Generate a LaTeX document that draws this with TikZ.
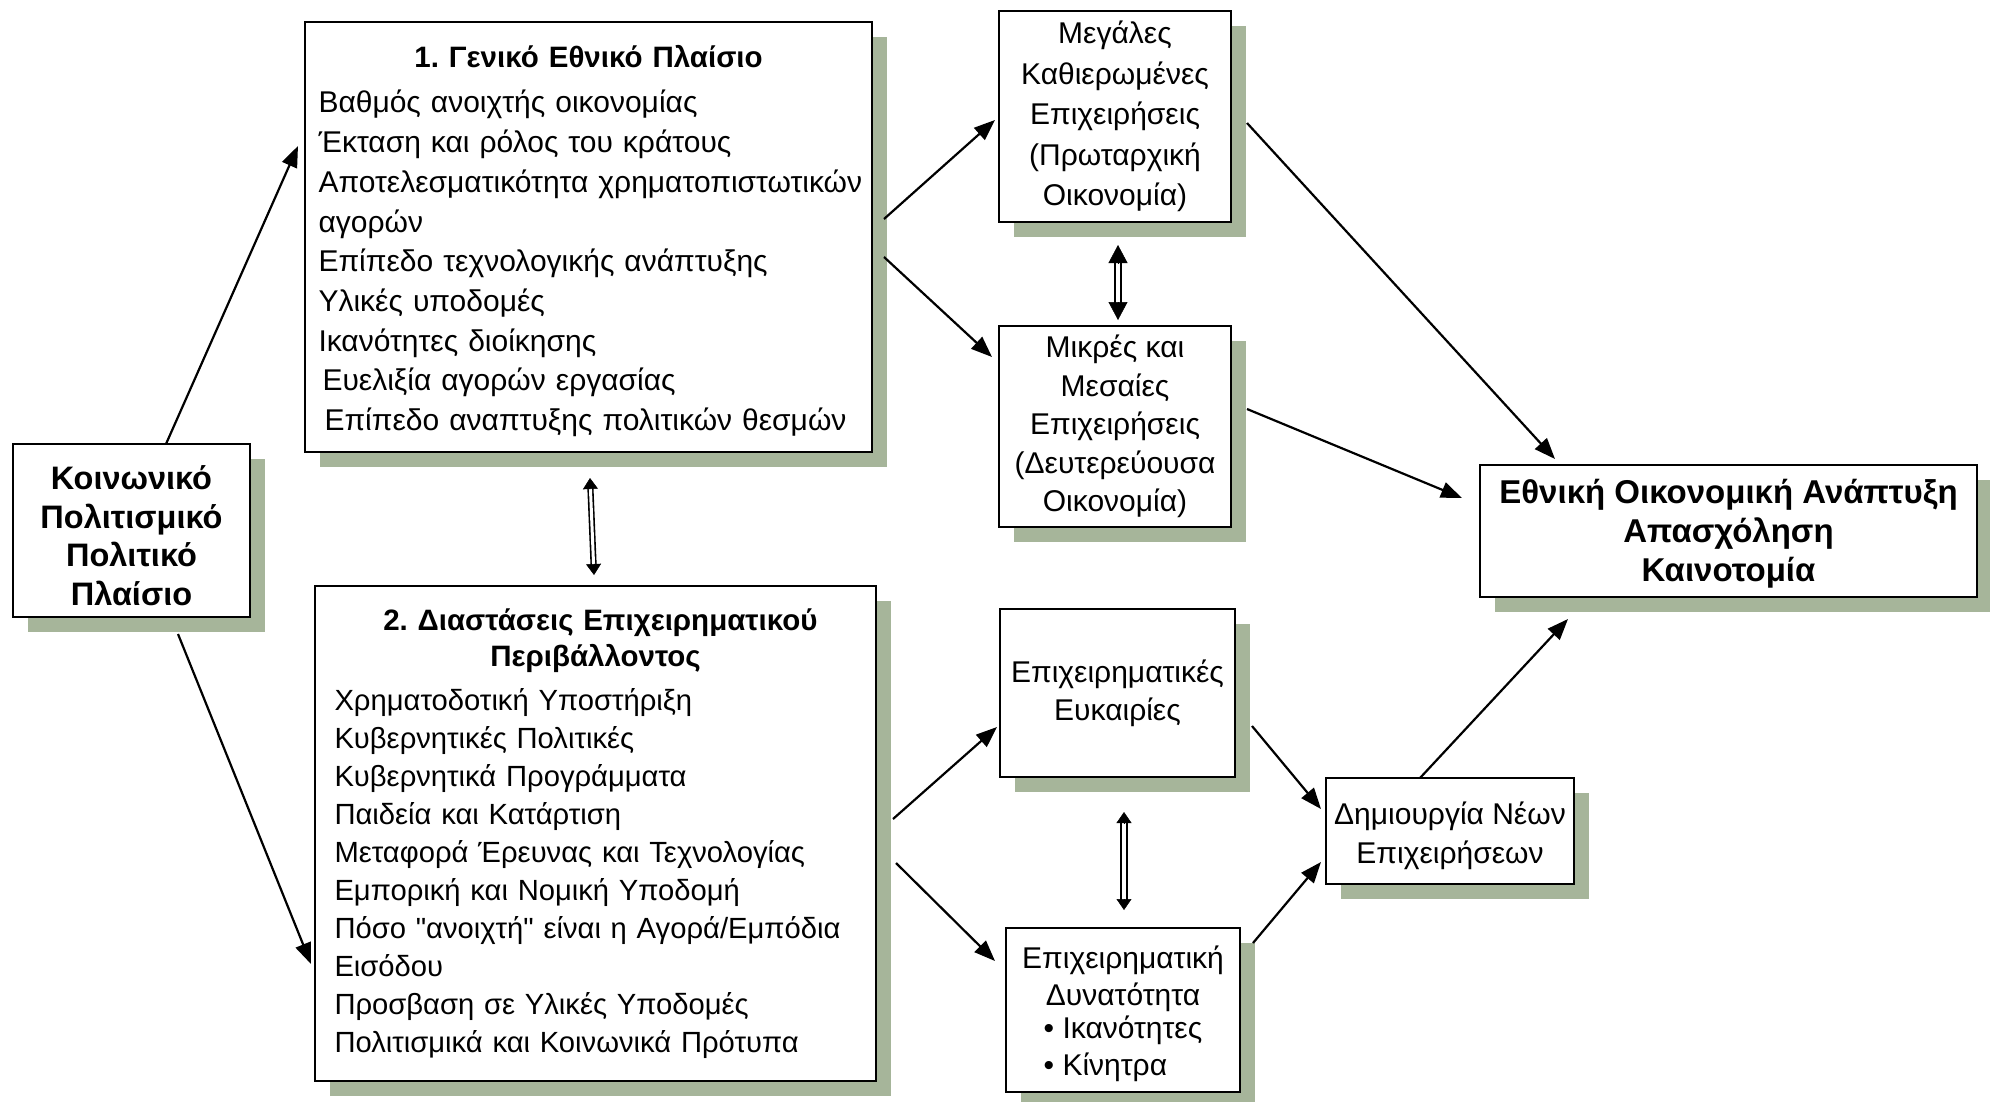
\documentclass[tikz,border=0pt]{standalone}
\usepackage{fontspec}
\setmainfont{Liberation Sans}[Ligatures=TeXOff]
\usetikzlibrary{shadows,arrows.meta,calc}
\definecolor{shadowc}{RGB}{166,181,154}
\newcommand\fsz[2]{\fontsize{#1}{#2}\selectfont}
\newcommand\dblarr[6]{%
  \draw[line width=#6, double=white, double distance=#5, shorten <=#3-1pt, shorten >=#3-1pt] (#1) -- (#2);
  \draw[-{Triangle[length=#3,width=#4]}, line width=0.5pt] ($(#1)!#3!(#2)$) -- (#1);
  \draw[-{Triangle[length=#3,width=#4]}, line width=0.5pt] ($(#2)!#3!(#1)$) -- (#2);
}
\tikzset{
  box/.style={draw=black, line width=2.4pt, fill=white, anchor=north west, inner sep=0pt, outer sep=0pt,
    drop shadow={shadow xshift=15pt, shadow yshift=-15pt, fill=shadowc, opacity=1, draw=none}},
  cbox/.style={box, align=center},
  arr/.style={line width=2.2pt, -{Triangle[length=21pt,width=16pt]}},
}
\frenchspacing
\begin{document}
\begin{tikzpicture}[x=1pt,y=-1pt]
\fill[white] (0,0) rectangle (1990,1101);
\useasboundingbox (0,0) rectangle (1990,1101);

\node[cbox, minimum width=237pt, minimum height=173pt, font=\bfseries\fsz{32.5}{38.7}] (soc) at (13,444)
  {\rule{0pt}{34pt}Κοινωνικό\\Πολιτισμικό\\Πολιτικό\\Πλαίσιο};

\node[box, minimum width=567pt, minimum height=430pt, text width=540pt, font=\fsz{30}{39.7}] (box1) at (305,22) {%
{\centering\bfseries\fsz{29.5}{36}\rule{0pt}{30pt}1. Γενικό Εθνικό Πλαίσιο\par}\vspace{6pt}
\raggedright
Βαθμός ανοιχτής οικονομίας\\
Έκταση και ρόλος του κράτους\\
\mbox{Αποτελεσματικότητα χρηματοπιστωτικών}\\
αγορών\\
Επίπεδο τεχνολογικής ανάπτυξης\\
Υλικές υποδομές\\
Ικανότητες διοίκησης\\
\hspace*{4pt}Ευελιξία αγορών εργασίας\\
\hspace*{6pt}Επίπεδο αναπτυξης πολιτικών θεσμών\par};

\node[box, minimum width=561pt, minimum height=495pt, text width=522pt, font=\fsz{29.2}{38}] (box2) at (315,586) {%
{\centering\bfseries\fsz{29.5}{36} 2. Διαστάσεις Επιχειρηματικού\\Περιβάλλοντος\par}\vspace{6pt}
\raggedright
Χρηματοδοτική Υποστήριξη\\
Κυβερνητικές Πολιτικές\\
Κυβερνητικά Προγράμματα\\
Παιδεία και Κατάρτιση\\
Μεταφορά Έρευνας και Τεχνολογίας\\
Εμπορική και Νομική Υποδομή\\
Πόσο "ανοιχτή" είναι η Αγορά/Εμπόδια\\
Εισόδου\\
Προσβαση σε Υλικές Υποδομές\\
Πολιτισμικά και Κοινωνικά Πρότυπα\par};

\node[cbox, minimum width=232pt, minimum height=211pt, font=\fsz{30}{40.5}] (big) at (999,11)
  {Μεγάλες\\Καθιερωμένες\\Επιχειρήσεις\\(Πρωταρχική\\Οικονομία)};
\node[cbox, minimum width=232pt, minimum height=201pt, font=\fsz{30}{38.5}] (sme) at (999,326)
  {Μικρές και\\Μεσαίες\\Επιχειρήσεις\\(Δευτερεύουσα\\Οικονομία)};
\node[cbox, minimum width=497pt, minimum height=132pt, font=\bfseries\fsz{33}{39}] (out) at (1480,465)
  {\rule{0pt}{30pt}Εθνική Οικονομική Ανάπτυξη\\Απασχόληση\\Καινοτομία};
\node[cbox, minimum width=235pt, minimum height=168pt, font=\fsz{30}{38}] (opp) at (1000,609)
  {Επιχειρηματικές\\Ευκαιρίες};
\node[cbox, minimum width=248pt, minimum height=106pt, font=\fsz{30}{38.5}] (new) at (1326,778)
  {\rule{0pt}{32pt}Δημιουργία Νέων\\Επιχειρήσεων};
\node[cbox, minimum width=234pt, minimum height=164pt, font=\fsz{30}{37}] (pot) at (1006,928)
  {\rule{0pt}{35pt}Επιχειρηματική\\Δυνατότητα\\\begin{tabular}{@{}l@{}}• Ικανότητες\\• Κίνητρα\end{tabular}};

% single arrows
\draw[arr] ($(soc.north west)+(153,0)$) -- ($(box1.north west)+(-7,124)$);
\draw[arr] ($(soc.south west)+(165,17)$) -- ($(box2.north west)+(-4,378)$);
\draw[arr] ($(box1.north east)+(12,197)$) -- ($(big.north west)+(-4,109)$);
\draw[arr] ($(box1.north east)+(12,235)$) -- ($(sme.north west)+(-7,31)$);
\draw[arr] ($(big.north east)+(16,112)$) -- ($(out.north west)+(75,-6)$);
\draw[arr] ($(sme.north east)+(16,83)$) -- ($(out.north west)+(-18,33)$);
\draw[arr] ($(box2.north east)+(17,233)$) -- ($(opp.north west)+(-3,118)$);
\draw[arr] ($(box2.north east)+(20,277)$) -- ($(pot.north west)+(-11,33)$);
\draw[arr] ($(opp.north east)+(17,117)$) -- ($(new.north west)+(-5,31)$);
\draw[arr] ($(pot.north east)+(13,15)$) -- ($(new.north west)+(-5,84)$);
\draw[arr] ($(new.north west)+(94,0)$) -- ($(out.south west)+(88,22)$);

% double arrows
\coordinate (d1a) at ($(box1.south west)+(285,26)$);
\coordinate (d1b) at ($(box2.north west)+(279,-11)$);
\dblarr{d1a}{d1b}{11pt}{15pt}{3pt}{1.6pt}
\coordinate (d2a) at ($(big.south west)+(119,23)$);
\coordinate (d2b) at ($(sme.north west)+(119,-6)$);
\dblarr{d2a}{d2b}{18pt}{19pt}{4.5pt}{2pt}
\coordinate (d3a) at ($(opp.south west)+(124,35)$);
\coordinate (d3b) at ($(pot.north west)+(118,-18)$);
\dblarr{d3a}{d3b}{11pt}{15pt}{3.5pt}{1.8pt}
\end{tikzpicture}
\end{document}
